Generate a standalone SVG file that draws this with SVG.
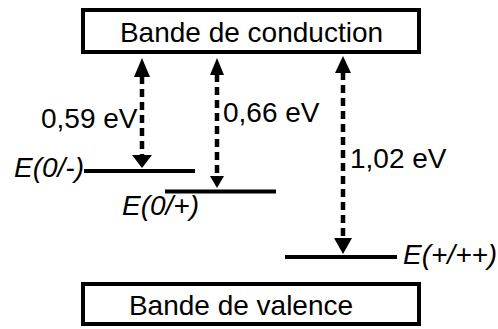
<svg xmlns="http://www.w3.org/2000/svg" width="498" height="329" viewBox="0 0 498 329">
<style>
.box{fill:#fff;stroke:#000;stroke-width:4}
.t{font-family:"Liberation Sans",Arial,sans-serif;font-size:28px;fill:#000}
.i{font-style:italic}
.lvl{stroke:#000;stroke-width:4}
.dash{stroke:#000;stroke-width:4.5;stroke-dasharray:8 5;fill:none}
.head{fill:#000}
</style>
<rect width="498" height="329" fill="#fff"/>
<g id="conduction">
<rect class="box" x="83" y="10" width="336" height="42"/>
<text class="t" x="251.5" y="42" text-anchor="middle">Bande de conduction</text>
</g>
<g id="valence">
<rect class="box" x="83" y="284" width="336" height="40"/>
<text class="t" x="241" y="315" text-anchor="middle">Bande de valence</text>
</g>
<g id="level-0-minus">
<line class="lvl" x1="84" y1="171" x2="195" y2="171"/>
<text class="t i" x="14" y="177">E(0/-)</text>
</g>
<g id="level-0-plus">
<line class="lvl" x1="165" y1="191.5" x2="276" y2="191.5"/>
<text class="t i" x="122" y="215">E(0/+)</text>
</g>
<g id="level-plus-plusplus">
<line class="lvl" x1="285" y1="257" x2="397" y2="257"/>
<text class="t i" x="403" y="264">E(+/++)</text>
</g>
<g id="connectors">
<line class="dash" x1="142" y1="76" x2="142" y2="156"/>
<polygon class="head" points="142,58 134,77 150,77"/>
<polygon class="head" points="142,168 132,155 152,155"/>
<text class="t" x="41" y="128">0,59 eV</text>
<line class="dash" x1="217" y1="74" x2="217" y2="177"/>
<polygon class="head" points="217,58 210,75 224,75"/>
<polygon class="head" points="217,188 210,176 224,176"/>
<text class="t" x="223" y="122">0,66 eV</text>
<line class="dash" x1="343" y1="72" x2="343" y2="239"/>
<polygon class="head" points="343,56 335,73 351,73"/>
<polygon class="head" points="343,254 334,238 352,238"/>
<text class="t" x="350" y="168">1,02 eV</text>
</g>
</svg>
